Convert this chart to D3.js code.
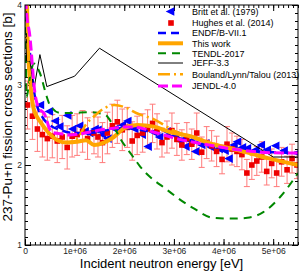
<!DOCTYPE html>
<html lang="en">
<head>
<meta charset="UTF-8">
<title>237-Pu+n fission</title>
<script src="https://d3js.org/d3.v7.min.js"></script>
<style>
  body { margin: 0; background: #fff; }
  text { font-family: "Liberation Sans", Arial, sans-serif; }
</style>
</head>
<body>
<div id="chart"></div>
<script>
// energies in eV, cross sections in barns
var brittE  = [0.30e6, 0.48e6, 0.60e6, 0.69e6, 0.85e6, 0.95e6, 1.09e6, 1.20e6, 1.29e6, 1.40e6, 1.46e6, 1.55e6, 1.66e6, 1.80e6, 1.95e6, 2.06e6, 2.20e6, 2.35e6, 2.47e6, 2.58e6, 2.70e6, 2.85e6, 3.02e6, 3.12e6, 3.23e6, 3.33e6, 3.43e6, 3.55e6, 3.63e6, 3.75e6, 3.90e6, 4.02e6, 4.10e6, 4.20e6, 4.27e6, 4.37e6, 4.47e6, 4.64e6, 4.75e6, 4.87e6, 5.04e6, 5.21e6, 5.48e6];
var brittXs = [2.75, 2.67, 2.55, 2.48, 2.62, 2.45, 2.49, 2.42, 2.40, 2.45, 2.44, 2.38, 2.33, 2.45, 2.50, 2.55, 2.45, 2.38, 2.23, 2.41, 2.35, 2.42, 2.37, 2.30, 2.23, 2.30, 2.17, 2.25, 2.27, 2.22, 2.20, 2.18, 2.08, 2.25, 2.29, 2.22, 2.21, 2.19, 2.25, 2.19, 2.24, 2.18, 2.15];

var hughesE   = [0.05e6, 0.15e6, 0.25e6, 0.35e6, 0.45e6, 0.55e6, 0.65e6, 0.75e6, 0.85e6, 0.95e6, 1.05e6, 1.16e6, 1.26e6, 1.39e6, 1.47e6, 1.56e6, 1.66e6, 1.76e6, 1.86e6, 1.96e6, 2.06e6, 2.16e6, 2.26e6, 2.37e6, 2.47e6, 2.57e6, 2.66e6, 2.76e6, 2.86e6, 2.96e6, 3.06e6, 3.16e6, 3.26e6, 3.36e6, 3.46e6, 3.56e6, 3.66e6, 3.76e6, 3.86e6, 3.97e6, 4.07e6, 4.17e6, 4.27e6, 4.37e6, 4.47e6, 4.57e6, 4.67e6, 4.77e6, 4.87e6, 4.97e6, 5.07e6, 5.17e6, 5.28e6, 5.38e6, 5.48e6];
var hughesXs  = [2.75, 2.61, 2.45, 2.38, 2.33, 2.36, 2.30, 2.35, 2.22, 2.36, 2.38, 2.42, 2.33, 2.40, 2.35, 2.28, 2.40, 2.49, 2.54, 2.44, 2.47, 2.30, 2.37, 2.40, 2.45, 2.52, 2.42, 2.28, 2.35, 2.43, 2.32, 2.25, 2.33, 2.26, 2.40, 2.16, 2.28, 2.24, 2.17, 2.07, 2.26, 2.20, 2.17, 2.13, 1.90, 2.00, 2.05, 2.10, 1.92, 2.02, 1.90, 2.04, 1.94, 2.08, 2.00];
var hughesErr = [0.30, 0.29, 0.28, 0.28, 0.27, 0.27, 0.27, 0.27, 0.27, 0.26, 0.26, 0.26, 0.26, 0.26, 0.25, 0.25, 0.26, 0.27, 0.27, 0.26, 0.25, 0.24, 0.24, 0.24, 0.24, 0.24, 0.22, 0.18, 0.20, 0.22, 0.20, 0.19, 0.20, 0.19, 0.25, 0.19, 0.20, 0.19, 0.19, 0.18, 0.22, 0.20, 0.19, 0.19, 0.17, 0.18, 0.18, 0.19, 0.17, 0.18, 0.17, 0.18, 0.17, 0.18, 0.17];

var endfCurve = [[0, 6], [0.02e6, 4.0], [0.1e6, 3.4], [0.2e6, 2.85], [0.35e6, 2.6], [0.5e6, 2.5], [0.7e6, 2.44], [1.0e6, 2.4], [1.3e6, 2.4], [1.6e6, 2.43], [2.0e6, 2.46], [2.5e6, 2.42], [3.0e6, 2.35], [3.5e6, 2.28], [4.0e6, 2.22], [4.5e6, 2.18], [5.0e6, 2.16], [5.5e6, 2.15]];
var thisWorkCurve = [[0, 6], [0.05e6, 3.6], [0.12e6, 2.94], [0.18e6, 2.69], [0.32e6, 2.53], [0.48e6, 2.4], [0.65e6, 2.31], [0.85e6, 2.28], [1.05e6, 2.29], [1.23e6, 2.31], [1.39e6, 2.25], [1.59e6, 2.28], [1.79e6, 2.35], [2.0e6, 2.46], [2.26e6, 2.5], [2.6e6, 2.48], [2.92e6, 2.41], [3.33e6, 2.36], [3.73e6, 2.27], [4.33e6, 2.18], [4.94e6, 2.08], [5.5e6, 2.0]];
var tendlCurve = [[0, 6], [0.03e6, 2.85], [0.1e6, 3.1], [0.18e6, 3.27], [0.3e6, 3.15], [0.44e6, 2.85], [0.5e6, 2.75], [0.71e6, 2.65], [0.91e6, 2.65], [1.31e6, 2.66], [1.61e6, 2.63], [1.77e6, 2.5], [1.92e6, 2.33], [2.18e6, 2.1], [2.32e6, 1.98], [2.86e6, 1.69], [3.39e6, 1.46], [3.79e6, 1.34], [4.19e6, 1.33], [4.48e6, 1.34], [4.8e6, 1.41], [5.14e6, 1.6], [5.5e6, 1.9]];
var jeffCurve = [[0, 6], [0.03e6, 3.3], [0.1e6, 3.3], [0.18e6, 2.95], [0.3e6, 3.38], [0.44e6, 2.98], [1.0e6, 3.11], [1.5e6, 3.46], [5.0e6, 2.1], [5.5e6, 2.1]];
var boulandCurve = [[0, 6], [0.05e6, 3.6], [0.12e6, 2.94], [0.18e6, 2.69], [0.32e6, 2.53], [0.48e6, 2.4], [0.65e6, 2.31], [0.85e6, 2.28], [1.05e6, 2.33], [1.22e6, 2.5], [1.43e6, 2.63], [1.6e6, 2.71], [1.8e6, 2.75], [2.06e6, 2.71], [2.24e6, 2.65], [2.6e6, 2.57], [3.0e6, 2.43], [3.5e6, 2.33], [4.0e6, 2.23], [4.5e6, 2.14], [5.0e6, 2.06], [5.5e6, 2.0]];
var jendlCurve = [[0, 6], [0.02e6, 4.0], [0.1e6, 3.6], [0.2e6, 2.9], [0.28e6, 2.71], [0.38e6, 2.65], [0.54e6, 2.41], [0.73e6, 2.39], [0.89e6, 2.375], [1.29e6, 2.41], [1.53e6, 2.44], [1.79e6, 2.46], [2.0e6, 2.475], [2.2e6, 2.475], [2.6e6, 2.41], [3.19e6, 2.31], [3.53e6, 2.27], [4.07e6, 2.21], [4.74e6, 2.16], [5.2e6, 2.15], [5.5e6, 2.15]];

var xTickValues = [0, 1e6, 2e6, 3e6, 4e6, 5e6];
var xTickLabels = ["0", "1e+06", "2e+06", "3e+06", "4e+06", "5e+06"];
var yTickValues = [1, 2, 3, 4];
var yTickLabels = ["1", "2", "3", "4"];

var legendLabels = ["Britt et al. (1979)", "Hughes et al. (2014)", "ENDF/B-VII.1", "This work", "TENDL-2017", "JEFF-3.3", "Bouland/Lynn/Talou (2013)", "JENDL-4.0"];

var width = 301, height = 273;
var pL = 25, pR = 298, pT = 5, pB = 245;

var svg = d3.select("#chart").append("svg")
    .attr("width", width)
    .attr("height", height);

var x = d3.scaleLinear().domain([0, 5.5e6]).range([pL, pR]);
var y = d3.scaleLinear().domain([1, 4]).range([pB, pT]);

svg.append("defs").append("clipPath").attr("id", "plotclip")
  .append("rect").attr("x", pL).attr("y", pT).attr("width", pR - pL).attr("height", pB - pT);

// ticks (inward, all four sides)
var xMinor = d3.range(0, 5.5e6 + 1, 1e5);
var yMinor = d3.range(1, 4.001, 0.1);

function styleAxis(g) {
  g.select(".domain").remove();
  g.selectAll("line").attr("stroke", "#000");
  g.selectAll("text").attr("font-size", "8.5px").attr("fill", "#222").style("font-family", "Liberation Sans, Arial, sans-serif");
}
function ticksOnly(g) {
  g.select(".domain").remove();
  g.selectAll("text").remove();
  g.selectAll("line").attr("stroke", "#000");
}

svg.append("g").attr("transform", "translate(0," + pB + ")")
  .call(d3.axisBottom(x).tickValues(xMinor).tickSize(-3)).call(ticksOnly);
svg.append("g").attr("transform", "translate(0," + pB + ")")
  .call(d3.axisBottom(x).tickValues(xTickValues).tickSize(-6).tickPadding(3)
        .tickFormat(function(d, i) { return xTickLabels[i]; }))
  .call(styleAxis);
svg.append("g").attr("transform", "translate(0," + pT + ")")
  .call(d3.axisTop(x).tickValues(xMinor).tickSize(-3)).call(ticksOnly);
svg.append("g").attr("transform", "translate(0," + pT + ")")
  .call(d3.axisTop(x).tickValues(xTickValues).tickSize(-6)).call(ticksOnly);

svg.append("g").attr("transform", "translate(" + pL + ",0)")
  .call(d3.axisLeft(y).tickValues(yMinor).tickSize(-3)).call(ticksOnly);
svg.append("g").attr("transform", "translate(" + pL + ",0)")
  .call(d3.axisLeft(y).tickValues(yTickValues).tickSize(-6).tickPadding(3)
        .tickFormat(function(d, i) { return yTickLabels[i]; }))
  .call(styleAxis);
svg.append("g").attr("transform", "translate(" + pR + ",0)")
  .call(d3.axisRight(y).tickValues(yMinor).tickSize(-3)).call(ticksOnly);
svg.append("g").attr("transform", "translate(" + pR + ",0)")
  .call(d3.axisRight(y).tickValues(yTickValues).tickSize(-6)).call(ticksOnly);

var plot = svg.append("g").attr("clip-path", "url(#plotclip)");

// Hughes et al. error bars + squares
var hughes = hughesE.map(function(e, i) { return { e: e, v: hughesXs[i], err: hughesErr[i] }; });
var eb = plot.append("g").attr("stroke", "#ff7a7a").attr("stroke-width", 1);
hughes.forEach(function(d) {
  var cx = x(d.e), y0 = y(d.v - d.err), y1 = y(d.v + d.err);
  eb.append("line").attr("x1", cx).attr("x2", cx).attr("y1", y0).attr("y2", y1);
  eb.append("line").attr("x1", cx - 3).attr("x2", cx + 3).attr("y1", y0).attr("y2", y0);
  eb.append("line").attr("x1", cx - 3).attr("x2", cx + 3).attr("y1", y1).attr("y2", y1);
});

// Britt et al. left-pointing triangles
function triPath(cx, cy, s) {
  return "M" + (cx - s) + "," + cy + "L" + (cx + s) + "," + (cy - s) + "L" + (cx + s) + "," + (cy + s) + "Z";
}
plot.append("g").selectAll("path").data(brittE).join("path")
  .attr("d", function(e, i) { return triPath(x(e), y(brittXs[i]), 4.3); })
  .attr("fill", "#0000ff");

plot.append("g").selectAll("rect").data(hughes).join("rect")
  .attr("x", function(d) { return x(d.e) - 2.8; })
  .attr("y", function(d) { return y(d.v) - 2.8; })
  .attr("width", 5.6).attr("height", 5.6)
  .attr("fill", "#ee0000");

var line = d3.line().x(function(d) { return x(d[0]); }).y(function(d) { return y(d[1]); }).curve(d3.curveMonotoneX);
var straight = d3.line().x(function(d) { return x(d[0]); }).y(function(d) { return y(d[1]); });

var series = [
  { data: endfCurve,     color: "#0000ff", w: 2.5, dash: "8,5",      gen: line },
  { data: thisWorkCurve, color: "#ffa500", w: 4,   dash: null,       gen: line },
  { data: tendlCurve,    color: "#008800", w: 2,   dash: "8,6",      gen: line },
  { data: jeffCurve,     color: "#000000", w: 1,   dash: null,       gen: straight },
  { data: boulandCurve,  color: "#ffa500", w: 2.5, dash: "12,4,2,4", gen: line },
  { data: jendlCurve,    color: "#ff00ff", w: 3,   dash: "10,4",     gen: line }
];

series.forEach(function(s) {
  plot.append("path")
    .attr("d", s.gen(s.data))
    .attr("fill", "none")
    .attr("stroke", s.color)
    .attr("stroke-width", s.w)
    .attr("stroke-dasharray", s.dash);
});

// frame
svg.append("rect").attr("x", pL).attr("y", pT).attr("width", pR - pL).attr("height", pB - pT)
  .attr("fill", "none").attr("stroke", "#000").attr("stroke-width", 1);

// legend
var legY = [11.5, 23, 33, 43.3, 53.3, 63, 74.3, 86];
var lg = svg.append("g");
legendLabels.forEach(function(label, i) {
  var ly = legY[i];
  if (i === 0) {
    lg.append("path").attr("d", triPath(170, ly, 4.3)).attr("fill", "#0000ff");
  } else if (i === 1) {
    lg.append("rect").attr("x", 168.2).attr("y", ly - 2.8).attr("width", 5.6).attr("height", 5.6).attr("fill", "#ee0000");
  } else {
    var s = series[i - 2];
    lg.append("line").attr("x1", 158).attr("x2", 183).attr("y1", ly).attr("y2", ly)
      .attr("stroke", s.color).attr("stroke-width", s.w).attr("stroke-dasharray", s.dash);
  }
  lg.append("text").attr("x", 192).attr("y", ly + 3.2).attr("font-size", "9px").attr("fill", "#000").text(label);
});

// axis titles
svg.append("text")
  .attr("x", (pL + pR) / 2).attr("y", 268)
  .attr("text-anchor", "middle").attr("font-size", "13px").attr("fill", "#000")
  .text("Incident neutron energy [eV]");
svg.append("text")
  .attr("transform", "translate(12,117) rotate(-90)")
  .attr("text-anchor", "middle").attr("font-size", "13.5px").attr("fill", "#000")
  .text("237-Pu+n fission cross sections [b]");
</script>
</body>
</html>
